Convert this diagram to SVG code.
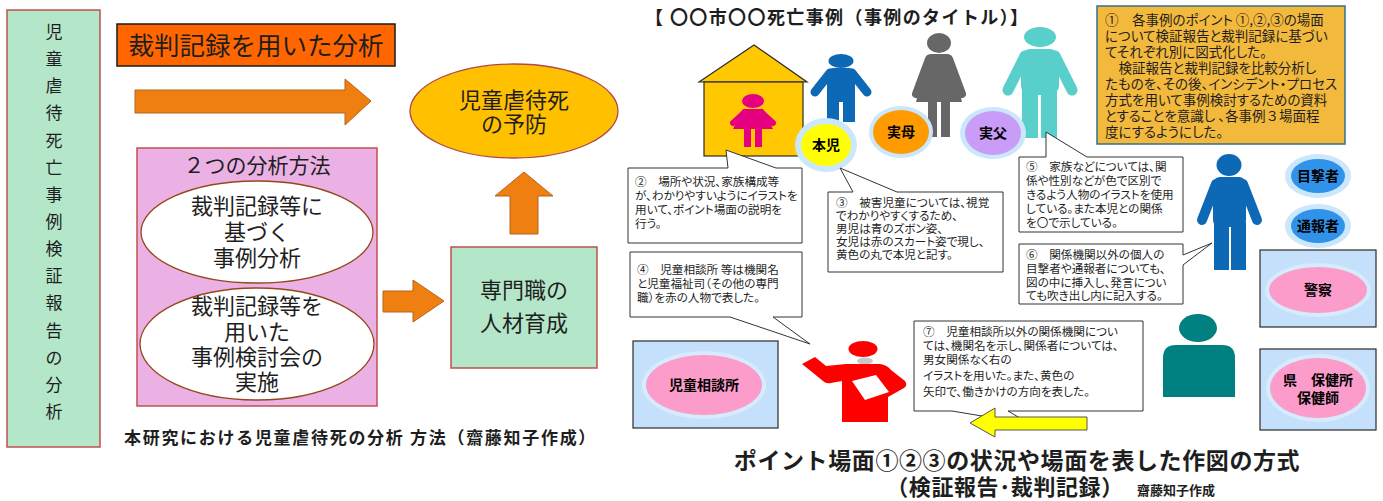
<svg xmlns="http://www.w3.org/2000/svg" width="1383" height="501" viewBox="0 0 1383 501">
<defs>
<style>
text { font-family: "Noto Sans CJK JP", "Noto Sans CJK SC", sans-serif; fill: #1e1e1e; }
.big { font-size: 22px; text-anchor: middle; }
.vt { font-size: 17px; text-anchor: middle; }
.note { font-size: 11.6px; font-feature-settings: "palt" 1; }
.memo { font-size: 13.5px; font-feature-settings: "palt" 1; }
.fw { font-feature-settings: normal; }
.lbl { font-size: 14px; font-weight: bold; text-anchor: middle; fill: #000; }
.bub { fill: #fff; stroke: #333; stroke-width: 1; }
.arrow { fill: #ee7f10; stroke: #b5651f; stroke-width: 1; }
.mint { fill: #b4e6c9; stroke: #c0504d; stroke-width: 1.5; }
.oval { fill: #fff; stroke: #94481a; stroke-width: 1.3; }
.halo { fill: #cbe7fb; }
.org { fill: #c5e0fa; stroke: #2b2b2b; stroke-width: 1.2; }
.pinkoval { fill: #fb9ccb; }
</style>
</defs>

<!-- left half: analysis method -->
<g id="side-title">
  <rect class="mint" x="7" y="10" width="93" height="437"/>
  <text class="vt">
    <tspan x="54" y="38">児</tspan><tspan x="54" y="65">童</tspan><tspan x="54" y="92">虐</tspan><tspan x="54" y="119">待</tspan><tspan x="54" y="147">死</tspan><tspan x="54" y="174">亡</tspan><tspan x="54" y="201">事</tspan><tspan x="54" y="228">例</tspan><tspan x="54" y="255">検</tspan><tspan x="54" y="282">証</tspan><tspan x="54" y="309">報</tspan><tspan x="54" y="337">告</tspan><tspan x="54" y="364">の</tspan><tspan x="54" y="391">分</tspan><tspan x="54" y="418">析</tspan>
  </text>
</g>

<g id="court-records">
  <rect x="117" y="24" width="278" height="42" fill="#ff6600" stroke="#1a1a1a" stroke-width="1.5"/>
  <text x="256" y="55" font-size="25.5" text-anchor="middle">裁判記録を用いた分析</text>
</g>

<g id="two-methods">
  <rect x="137" y="148" width="240" height="258" fill="#ebb1e5" stroke="#c0504d" stroke-width="1.5"/>
  <text x="257" y="173" font-size="21" text-anchor="middle">２つの分析方法</text>
</g>

<g id="method-1">
  <ellipse class="oval" cx="257" cy="232" rx="116" ry="51"/>
  <text class="big" x="257" y="214">裁判記録等に</text>
  <text class="big" x="257" y="240">基づく</text>
  <text class="big" x="257" y="266">事例分析</text>
</g>

<g id="method-2">
  <ellipse class="oval" cx="257" cy="344" rx="117" ry="56"/>
  <text class="big" x="257" y="314">裁判記録等を</text>
  <text class="big" x="257" y="340">用いた</text>
  <text class="big" x="257" y="365">事例検討会の</text>
  <text class="big" x="257" y="390">実施</text>
</g>

<g id="training">
  <rect class="mint" x="451" y="247" width="146" height="121"/>
  <text x="524" y="298" font-size="22" text-anchor="middle">専門職の</text>
  <text x="524" y="331" font-size="22" text-anchor="middle">人材育成</text>
</g>

<g id="prevention">
  <ellipse cx="514" cy="111" rx="104" ry="47" fill="#ffc000" stroke="#b0484a" stroke-width="1.3"/>
  <text x="514" y="108" font-size="22" text-anchor="middle">児童虐待死</text>
  <text x="514" y="132" font-size="22" text-anchor="middle">の予防</text>
</g>

<g id="flow-arrows">
  <polygon class="arrow" points="135,90 345,90 345,79 371,101 345,125 345,113 135,113"/>
  <polygon class="arrow" points="383,291 413,291 413,280 444,301 413,322 413,312 383,312"/>
  <polygon class="arrow" points="524,172 553,196 538,196 538,234 510,234 510,196 495,196"/>
</g>

<text id="caption-left" x="124" y="444" font-size="17" font-weight="bold" letter-spacing="1.7">本研究における児童虐待死の分析 方法（齋藤知子作成）</text>

<!-- right half: drawing scheme -->
<text id="case-title" x="645" y="24" font-size="18" font-weight="bold" letter-spacing="1.4">【 〇〇市〇〇死亡事例（事例のタイトル）】</text>

<g id="house">
  <polygon points="699,82 754,45 807,82" fill="#ffc800" stroke="#2a2a2a" stroke-width="1.2"/>
  <rect x="704" y="82" width="99" height="74" fill="#ffc800" stroke="#2a2a2a" stroke-width="1.2"/>
  <g fill="#e4007f" stroke="#e4007f">
    <ellipse cx="753" cy="101" rx="11" ry="7" stroke="none"/>
    <polygon points="743,109 763,109 773,129 733,129" stroke="none"/>
    <line x1="745" y1="112" x2="733" y2="123" stroke-width="6" stroke-linecap="round"/>
    <line x1="761" y1="112" x2="773" y2="123" stroke-width="6" stroke-linecap="round"/>
    <rect x="744" y="127" width="7" height="20" stroke="none"/>
    <rect x="755" y="127" width="7" height="20" stroke="none"/>
  </g>
</g>

<g id="boy" fill="#0d69b6" stroke="#0d69b6">
  <ellipse cx="841" cy="61" rx="12.5" ry="7" stroke="none"/>
  <rect x="827" y="68" width="28" height="34" rx="6" stroke="none"/>
  <line x1="830" y1="73" x2="815" y2="92" stroke-width="9" stroke-linecap="round"/>
  <line x1="852" y1="73" x2="867" y2="92" stroke-width="9" stroke-linecap="round"/>
  <rect x="827" y="96" width="12" height="26" stroke="none"/>
  <rect x="843" y="96" width="12" height="26" stroke="none"/>
</g>

<g id="mother-figure" fill="#676767" stroke="#676767">
  <ellipse cx="939" cy="43" rx="12" ry="10" stroke="none"/>
  <polygon points="928,55 950,55 962,102 916,102" stroke="none"/>
  <rect x="926" y="54" width="26" height="14" rx="5" stroke="none"/>
  <line x1="929" y1="59" x2="916" y2="94" stroke-width="8" stroke-linecap="round"/>
  <line x1="949" y1="59" x2="962" y2="94" stroke-width="8" stroke-linecap="round"/>
  <rect x="928" y="100" width="9" height="37" stroke="none"/>
  <rect x="941" y="100" width="9" height="37" stroke="none"/>
</g>

<g id="father-figure" fill="#59cfcc" stroke="#59cfcc">
  <ellipse cx="1040" cy="37" rx="16" ry="10" stroke="none"/>
  <rect x="1021" y="49" width="38" height="46" rx="9" stroke="none"/>
  <line x1="1025" y1="56" x2="1008" y2="90" stroke-width="11" stroke-linecap="round"/>
  <line x1="1055" y1="56" x2="1072" y2="90" stroke-width="11" stroke-linecap="round"/>
  <rect x="1022" y="88" width="16" height="50" stroke="none"/>
  <rect x="1041" y="88" width="16" height="50" stroke="none"/>
</g>

<g id="tag-child">
  <ellipse class="halo" cx="826" cy="145" rx="31" ry="27"/>
  <ellipse cx="826" cy="145" rx="25" ry="21" fill="#ffff00"/>
  <text class="lbl" x="826" y="150">本児</text>
</g>
<g id="tag-mother">
  <ellipse class="halo" cx="901" cy="132" rx="32" ry="26"/>
  <ellipse cx="901" cy="132" rx="28" ry="22" fill="#ff9a00"/>
  <text class="lbl" x="901" y="137">実母</text>
</g>
<g id="tag-father">
  <ellipse class="halo" cx="993" cy="133" rx="33" ry="26"/>
  <ellipse cx="993" cy="133" rx="28" ry="22" fill="#c99cf8"/>
  <text class="lbl" x="993" y="138">実父</text>
</g>

<g id="memo-1">
  <rect x="1097" y="6" width="248" height="138" fill="#f3b93d" stroke="#33708e" stroke-width="1.5"/>
  <text class="memo" x="1105" y="25">①　各事例のポイント ①,②,③の場面</text>
  <text class="memo" x="1105" y="41">について検証報告と裁判記録に基づい</text>
  <text class="memo" x="1105" y="57">てそれぞれ別に図式化した。</text>
  <text class="memo" x="1105" y="73">　検証報告と裁判記録を比較分析し</text>
  <text class="memo" x="1105" y="89">たものを、その後、インシデント・プロセス</text>
  <text class="memo" x="1105" y="105">方式を用いて事例検討するための資料</text>
  <text class="memo" x="1105" y="121">とすることを意識し 、各事例<tspan class="fw">３</tspan>場面程</text>
  <text class="memo" x="1105" y="137">度にするようにした。</text>
</g>

<g id="callouts">
  <path class="bub" d="M628,168 H728 L726,150 L776,168 H802 V243 H628 Z"/>
  <path class="bub" d="M828,192 H853 L840,168 L897,192 H1003 V272 H828 Z"/>
  <path class="bub" d="M630,252 H802 V317 H773 L810,344 L730,317 H630 Z"/>
  <path class="bub" d="M1019,157 H1046 L1046,132 L1087,157 H1183 V232 H1019 Z"/>
  <path class="bub" d="M1019,244 H1183 V255 L1212,243 L1183,265 V304 H1019 Z"/>
  <path class="bub" d="M914,321 H1143 V411 H1008 L1030,424 L952,411 H914 Z"/>
</g>

<g id="note-2">
  <text class="note" x="635" y="186">②　場所や状況、家族構成等</text>
  <text class="note" x="635" y="200">が、わかりやすいようにイラストを</text>
  <text class="note" x="635" y="214">用いて、ポイント場面の説明を</text>
  <text class="note" x="635" y="228">行う。</text>
</g>
<g id="note-3">
  <text class="note" x="836" y="207">③　被害児童については、視覚</text>
  <text class="note" x="836" y="220">でわかりやすくするため、</text>
  <text class="note" x="836" y="233">男児は青のズボン姿、</text>
  <text class="note" x="836" y="246">女児は赤のスカート姿で現し、</text>
  <text class="note" x="836" y="259">黄色の丸で本児と記す。</text>
</g>
<g id="note-4">
  <text class="note" x="637" y="274">④　児童相談所 等は機関名</text>
  <text class="note" x="637" y="288">と児童福祉司（その他の専門</text>
  <text class="note" x="637" y="302">職）を赤の人物で表した。</text>
</g>
<g id="note-5">
  <text class="note" x="1026" y="171">⑤　家族などについては、関</text>
  <text class="note" x="1026" y="185">係や性別などが色で区別で</text>
  <text class="note" x="1026" y="199">きるよう人物のイラストを使用</text>
  <text class="note" x="1026" y="213">している。また本児との関係</text>
  <text class="note" x="1026" y="227">を〇で示している。</text>
</g>
<g id="note-6">
  <text class="note" x="1026" y="259">⑥　関係機関以外の個人の</text>
  <text class="note" x="1026" y="273">目撃者や通報者についても、</text>
  <text class="note" x="1026" y="287">図の中に挿入し、発言につい</text>
  <text class="note" x="1026" y="300">ても吹き出し内に記入する。</text>
</g>
<g id="note-7">
  <text class="note" x="923" y="336">⑦　児童相談所以外の関係機関につい</text>
  <text class="note" x="923" y="350">ては、機関名を示し、関係者については、</text>
  <text class="note" x="923" y="364">男女関係なく右の</text>
  <text class="note" x="923" y="380">イラストを用いた。また、黄色の</text>
  <text class="note" x="923" y="396">矢印で、働きかけの方向を表した。</text>
</g>

<g id="witness-figure" fill="#0d69b6" stroke="#0d69b6">
  <ellipse cx="1229" cy="165" rx="12.5" ry="11" stroke="none"/>
  <rect x="1213" y="177" width="33" height="50" rx="7" stroke="none"/>
  <line x1="1216" y1="184" x2="1202" y2="220" stroke-width="10" stroke-linecap="round"/>
  <line x1="1243" y1="184" x2="1257" y2="220" stroke-width="10" stroke-linecap="round"/>
  <rect x="1214" y="222" width="15" height="48" stroke="none"/>
  <rect x="1231" y="222" width="15" height="48" stroke="none"/>
</g>

<g id="tag-witness">
  <ellipse class="halo" cx="1318" cy="176" rx="33" ry="22"/>
  <ellipse cx="1318" cy="176" rx="27" ry="17" fill="#3192ea"/>
  <text class="lbl" x="1318" y="181">目撃者</text>
</g>
<g id="tag-reporter">
  <ellipse class="halo" cx="1318" cy="226" rx="33" ry="22"/>
  <ellipse cx="1318" cy="226" rx="27" ry="17" fill="#3192ea"/>
  <text class="lbl" x="1318" y="231">通報者</text>
</g>

<g id="police">
  <rect class="org" x="1260" y="250" width="116" height="77"/>
  <ellipse cx="1318" cy="290" rx="53" ry="27" fill="#d6ebfb"/>
  <ellipse class="pinkoval" cx="1318" cy="290" rx="49" ry="23"/>
  <text class="lbl" x="1318" y="295">警察</text>
</g>

<g id="health-center">
  <rect class="org" x="1260" y="349" width="116" height="81"/>
  <ellipse cx="1318" cy="388" rx="52" ry="34" fill="#d6ebfb"/>
  <ellipse class="pinkoval" cx="1318" cy="388" rx="48" ry="30"/>
  <text class="lbl" x="1318" y="385">県　保健所</text>
  <text class="lbl" x="1318" y="403">保健師</text>
</g>

<g id="other-person" fill="#008080">
  <ellipse cx="1198" cy="328" rx="19" ry="14"/>
  <path d="M1163,397 V358 Q1163,345 1176,345 H1222 Q1235,345 1235,358 V397 Z"/>
</g>

<g id="child-guidance">
  <rect class="org" x="633" y="341" width="145" height="87"/>
  <ellipse cx="704" cy="385" rx="62" ry="34" fill="#d6ebfb"/>
  <ellipse class="pinkoval" cx="704" cy="385" rx="58" ry="30"/>
  <text class="lbl" x="704" y="390" font-size="15">児童相談所</text>
</g>

<g id="caseworker">
  <ellipse cx="863" cy="349" rx="14.5" ry="8" fill="#ff0000"/>
  <ellipse cx="865" cy="361" rx="8" ry="3.5" fill="#c8c8c8"/>
  <path d="M846,364 L880,364 Q887,365 891,370 L905,381 Q908,385 904,388 L888,397 L888,422 L842,422 L842,381 L831,383 Q826,384 823,381 L812,372 L802,364 L815,357 L826,366 Z" fill="#ff0000"/>
  <polygon points="852,381 876,375 889,392 865,400" fill="#ffffff"/>
</g>

<g id="action-arrow">
  <polygon points="970,423 995,408 995,417 1087,417 1087,430 995,430 995,437" fill="#ffff00" stroke="#555" stroke-width="1"/>
</g>

<g id="caption-right">
  <text x="1017" y="469" font-size="23" font-weight="bold" text-anchor="middle" letter-spacing="0.6">ポイント場面①②③の状況や場面を表した作図の方式</text>
  <text x="1005" y="495" font-size="22" font-weight="bold" text-anchor="middle" letter-spacing="0.6">（検証報告･裁判記録）</text>
  <text x="1137" y="495" font-size="13" font-weight="bold">齋藤知子作成</text>
</g>
</svg>
